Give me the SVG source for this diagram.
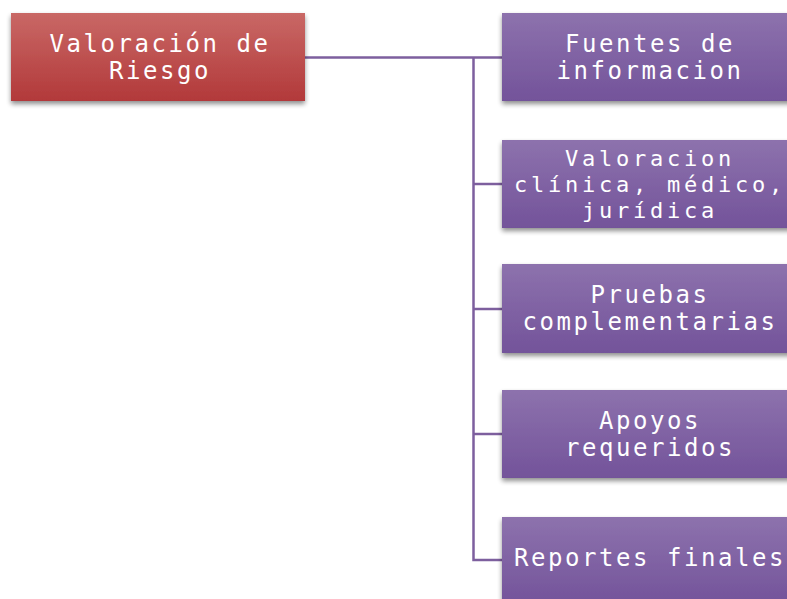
<svg xmlns="http://www.w3.org/2000/svg" width="787" height="599" viewBox="0 0 787 599">
<style>
.t{font-family:"DejaVu Sans Mono","Liberation Mono",monospace;font-size:24px;letter-spacing:2.55px;fill:#ffffff;text-anchor:middle}
.s{font-size:22px;letter-spacing:3.76px}
.c{fill:none;stroke:#7d5f9e;stroke-width:2.5}
</style>
<defs>
<linearGradient id="gr" x1="0" y1="0" x2="0" y2="1">
<stop offset="0" stop-color="#c96866"/>
<stop offset="1" stop-color="#b2393a"/>
</linearGradient>
<linearGradient id="gp" x1="0" y1="0" x2="0" y2="1">
<stop offset="0" stop-color="#8d72ad"/>
<stop offset="1" stop-color="#73539a"/>
</linearGradient>
<filter id="sh" x="-10%" y="-20%" width="120%" height="150%">
<feGaussianBlur in="SourceAlpha" stdDeviation="2.5"/>
<feOffset dx="0" dy="3" result="b"/>
<feComponentTransfer><feFuncA type="linear" slope="0.45"/></feComponentTransfer>
<feMerge><feMergeNode/><feMergeNode in="SourceGraphic"/></feMerge>
</filter>
</defs>
<rect width="787" height="599" fill="#ffffff"/>
<g id="connectors">
<path class="c" d="M305 57.5 H502"/>
<path class="c" d="M473.5 57.5 V560 H502"/>
<path class="c" d="M473.5 184 H502"/>
<path class="c" d="M473.5 309 H502"/>
<path class="c" d="M473.5 434 H502"/>
</g>
<g id="root">
<rect x="11" y="13" width="294" height="88" fill="url(#gr)" filter="url(#sh)"/>
<text class="t" x="160" y="52">Valoración de</text>
<text class="t" x="160" y="79">Riesgo</text>
</g>
<g id="n1">
<rect x="502" y="13" width="293" height="88" fill="url(#gp)" filter="url(#sh)"/>
<text class="t" x="650" y="52">Fuentes de</text>
<text class="t" x="650" y="79">informacion</text>
</g>
<g id="n2">
<rect x="502" y="140" width="293" height="88" fill="url(#gp)" filter="url(#sh)"/>
<text class="t s" x="650" y="166">Valoracion</text>
<text class="t s" x="650" y="192">clínica, médico,</text>
<text class="t s" x="650" y="218">jurídica</text>
</g>
<g id="n3">
<rect x="502" y="264" width="293" height="89" fill="url(#gp)" filter="url(#sh)"/>
<text class="t" x="650" y="303">Pruebas</text>
<text class="t" x="650" y="330">complementarias</text>
</g>
<g id="n4">
<rect x="502" y="390" width="293" height="88" fill="url(#gp)" filter="url(#sh)"/>
<text class="t" x="650" y="429">Apoyos</text>
<text class="t" x="650" y="456">requeridos</text>
</g>
<g id="n5">
<rect x="502" y="517" width="293" height="88" fill="url(#gp)" filter="url(#sh)"/>
<text class="t" x="650" y="566">Reportes finales</text>
</g>
</svg>
